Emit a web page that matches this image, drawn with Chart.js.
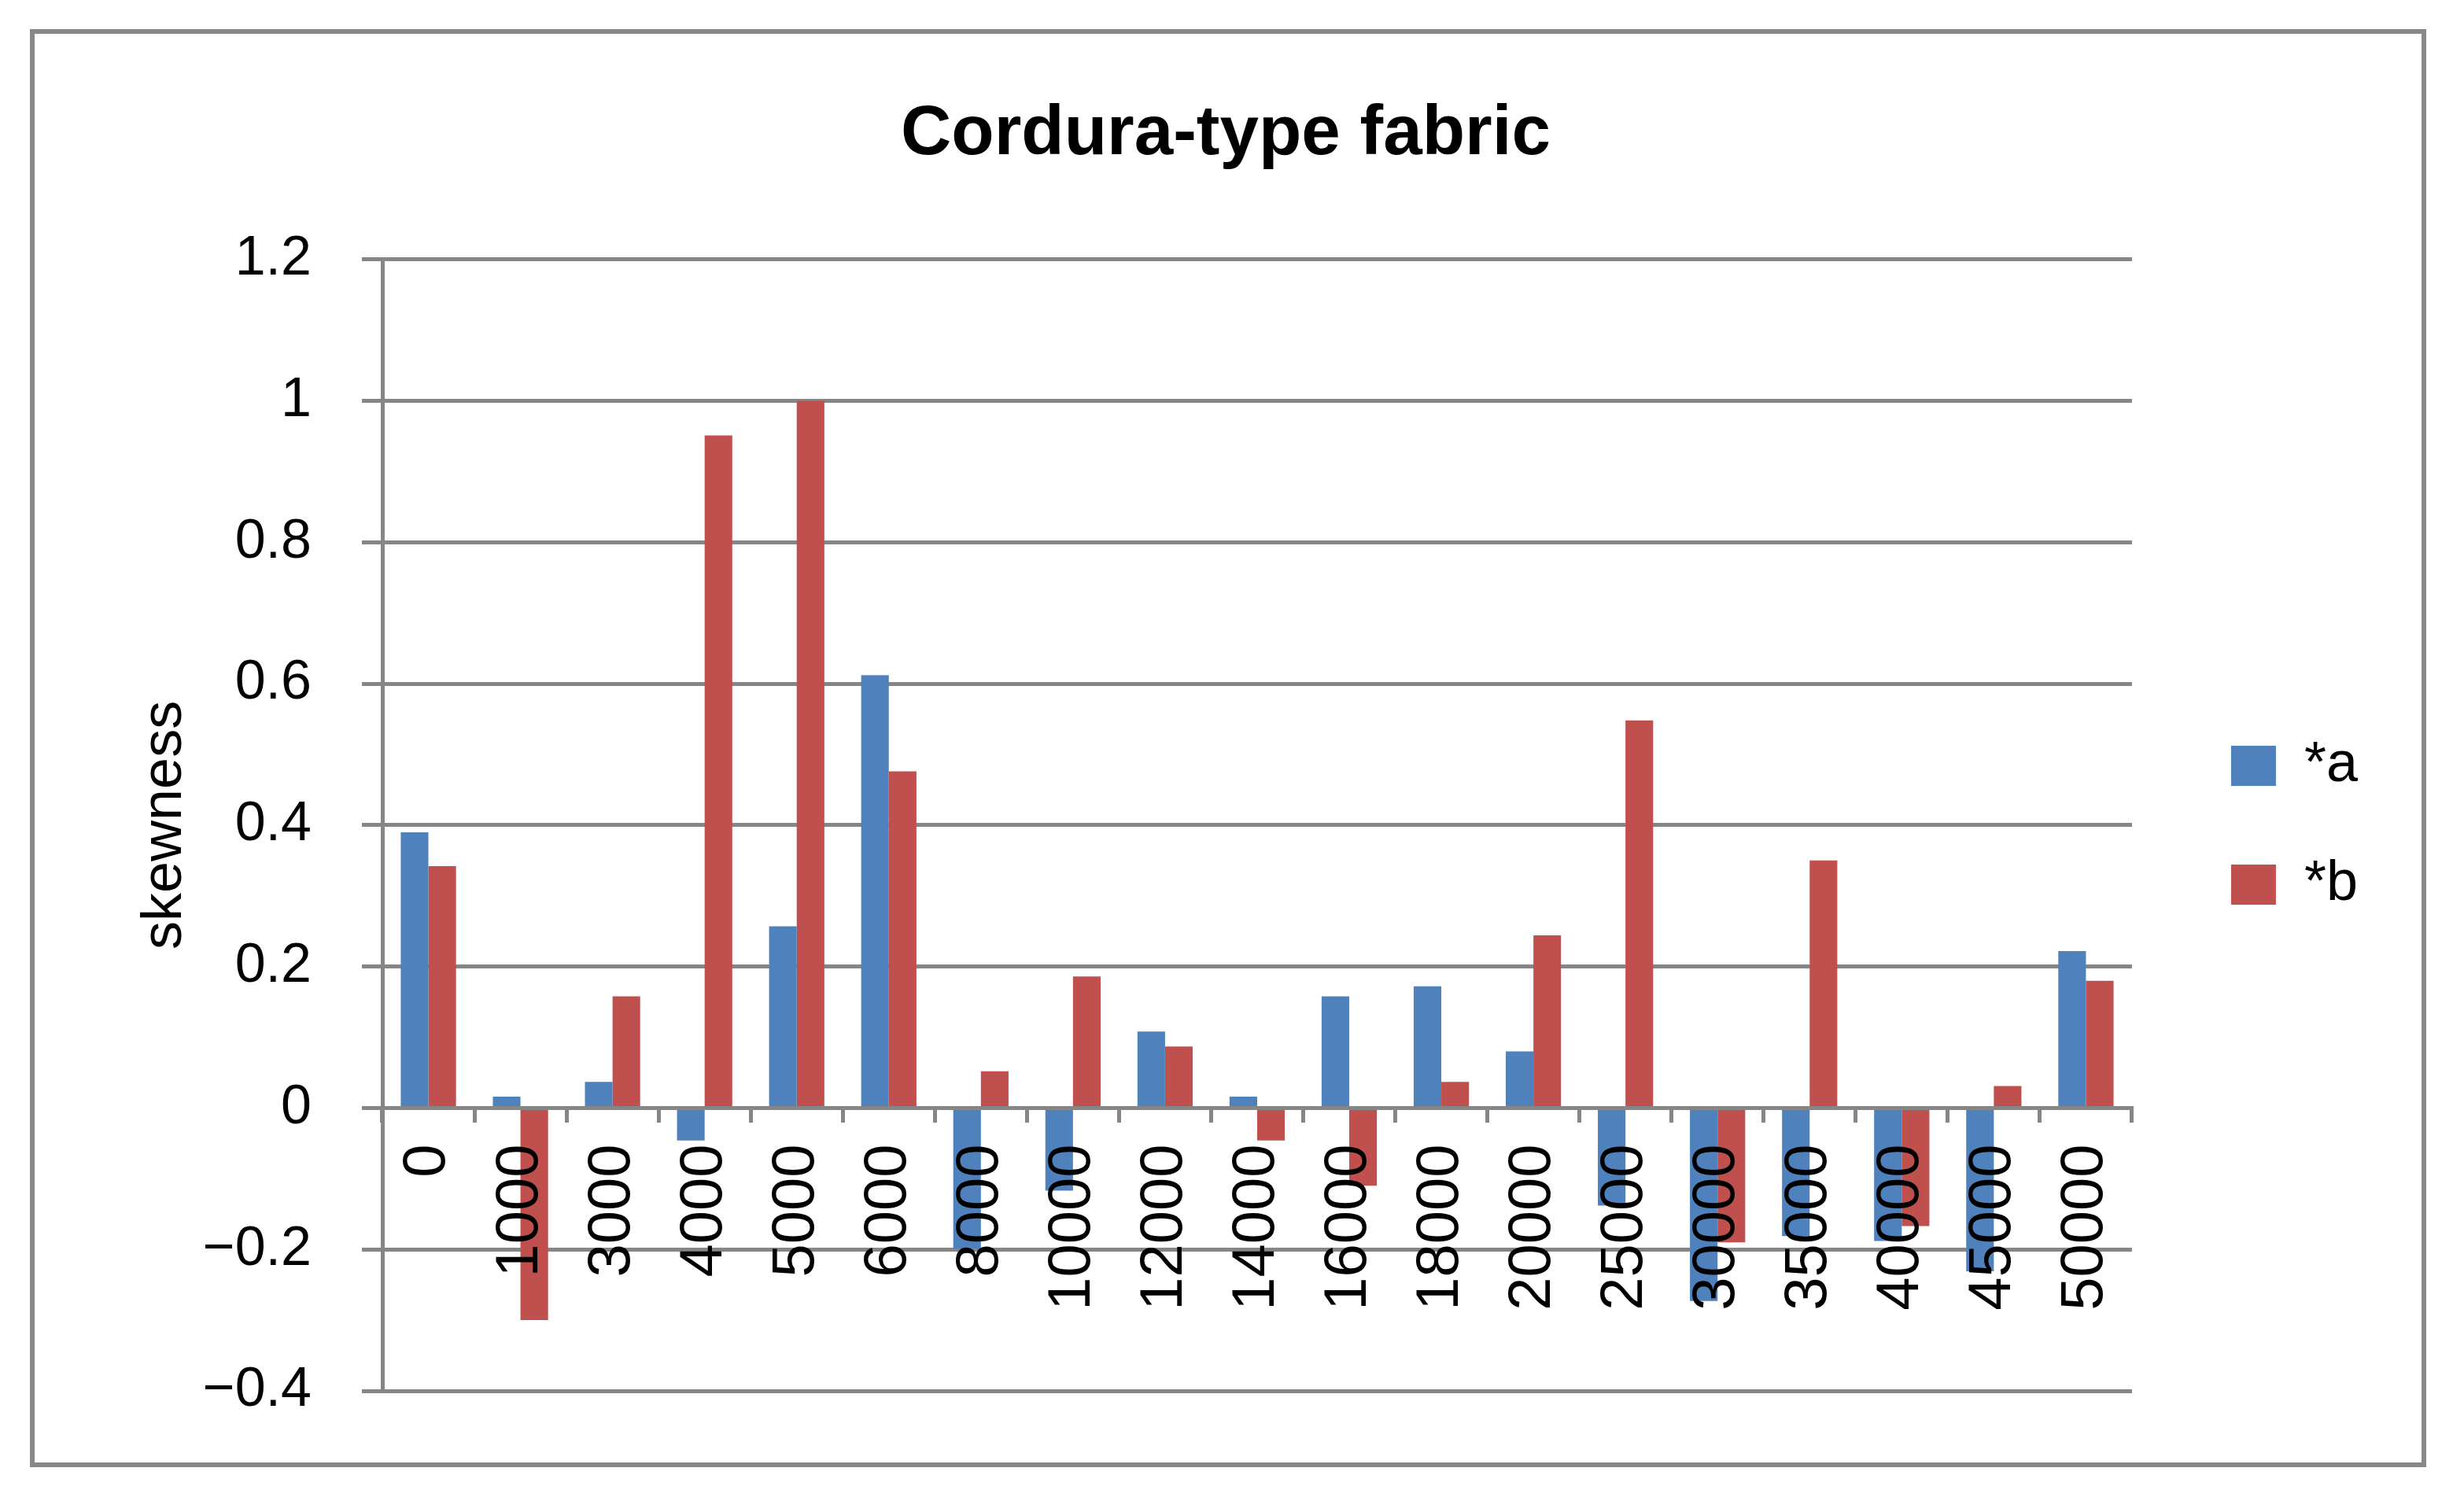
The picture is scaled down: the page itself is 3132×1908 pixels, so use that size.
<!DOCTYPE html>
<html>
<head>
<meta charset="utf-8">
<title>Cordura-type fabric</title>
<script src="https://cdn.jsdelivr.net/npm/chart.js@4.4.1/dist/chart.umd.min.js"></script>
<style>
  html, body { margin: 0; padding: 0; background: #fff; }
  #wrap { position: relative; width: 3132px; height: 1908px; }
  #frame {
    position: absolute; left: 38px; top: 37px; width: 3046px; height: 1828px;
    border: 6px solid #888888; box-sizing: border-box; pointer-events: none;
  }
  #chart { position: absolute; left: 0; top: 0; }
</style>
</head>
<body>
<div id="wrap">
  <canvas id="chart" width="3132" height="1908"></canvas>
  <div id="frame"></div>
</div>
<script>
/* skewness per load step */
const categories = ['0', '1000', '3000', '4000', '5000', '6000', '8000', '10000', '12000', '14000',
  '16000', '18000', '20000', '25000', '30000', '35000', '40000', '45000', '50000'];
const seriesA = [0.39, 0.016, 0.037, -0.046, 0.257, 0.612, -0.199, -0.117, 0.108, 0.016,
  0.158, 0.172, 0.08, -0.138, -0.273, -0.181, -0.188, -0.231, 0.222];
const seriesB = [0.342, -0.30, 0.158, 0.951, 1.0, 0.476, 0.052, 0.186, 0.087, -0.046,
  -0.11, 0.037, 0.244, 0.548, -0.19, 0.35, -0.167, 0.031, 0.18];
const seriesNames = ['*a', '*b'];
const yTicks = [1.2, 1, 0.8, 0.6, 0.4, 0.2, 0, -0.2, -0.4];

const GRAY = '#868686';
const FONT = '"Liberation Sans", Arial, sans-serif';
const PAD_LEFT = 109;

function fmtTick(v) {
  const r = Math.round(v * 10) / 10;
  if (r === 0) return '0';
  return String(r).replace('-', '\u2212');
}

const ctx = document.getElementById('chart').getContext('2d');
new Chart(ctx, {
  type: 'bar',
  data: {
    labels: categories,
    datasets: [
      { label: seriesNames[0], data: seriesA, backgroundColor: '#4F81BD', borderWidth: 0 },
      { label: seriesNames[1], data: seriesB, backgroundColor: '#C0504D', borderWidth: 0 }
    ]
  },
  options: {
    responsive: false,
    animation: false,
    devicePixelRatio: 1,
    categoryPercentage: 0.6,
    barPercentage: 1,
    layout: { padding: { left: PAD_LEFT, right: 125, top: 0, bottom: 140 } },
    plugins: {
      title: {
        display: true,
        text: 'Cordura-type fabric',
        color: '#000',
        font: { family: FONT, size: 89, weight: 'bold', lineHeight: 1.2 },
        padding: { top: 118, bottom: 105 }
      },
      legend: {
        position: 'right',
        align: 'center',
        fullSize: false,
        labels: {
          color: '#000',
          font: { family: FONT, size: 72 },
          boxWidth: 57,
          boxHeight: 51,
          padding: 79
        }
      },
      tooltip: { enabled: false }
    },
    scales: {
      x: {
        position: { y: 0 },
        grid: { offset: true, drawOnChartArea: false, drawTicks: true, tickLength: 16, lineWidth: 5, color: GRAY },
        border: { display: true, color: GRAY, width: 5 },
        ticks: {
          z: 1, // labels sit on top of the bars
          autoSkip: false, minRotation: 90, maxRotation: 90, padding: 30,
          color: '#000', font: { family: FONT, size: 76 }
        },
        afterFit: s => { s.height = 0; }
      },
      y: {
        position: 'left',
        min: -0.4,
        max: 1.2,
        afterBuildTicks: s => { s.ticks = yTicks.map(v => ({ value: v })); },
        grid: { color: GRAY, lineWidth: 5, tickLength: 26, drawTicks: true },
        border: { display: true, color: GRAY, width: 5 },
        ticks: {
          padding: 64, color: '#000', font: { family: FONT, size: 70 },
          callback: v => fmtTick(v)
        },
        title: {
          display: true, text: 'skewness', color: '#000',
          font: { family: FONT, size: 72, lineHeight: 1.2 },
          padding: { top: 167 - PAD_LEFT, bottom: 0 }
        },
        afterFit: s => { s.width = 486 - PAD_LEFT; }
      },
      // spacer between plot and legend
      yGap: {
        position: 'right',
        grid: { display: false },
        border: { display: false },
        ticks: { display: false },
        afterFit: s => { s.width = 47; }
      }
    }
  }
});
</script>
</body>
</html>
